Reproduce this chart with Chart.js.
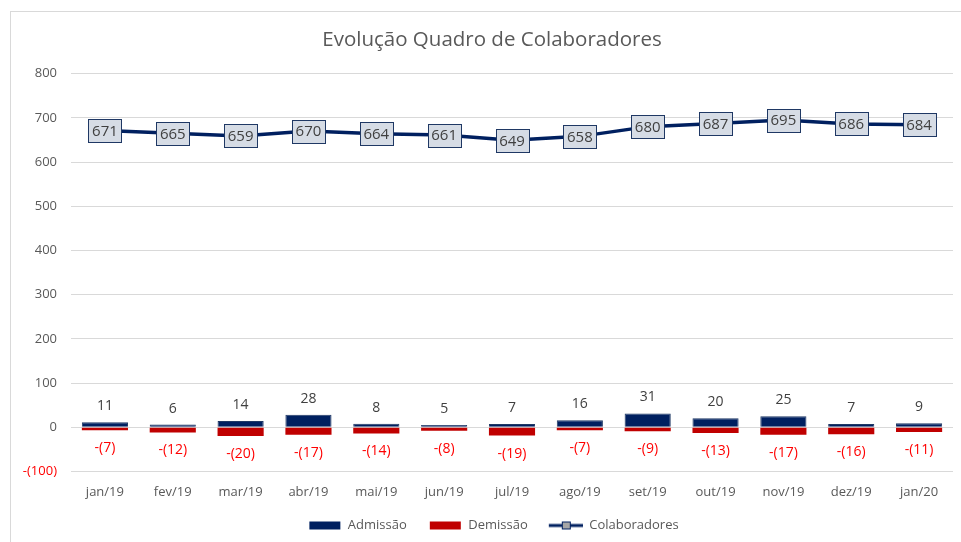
<!DOCTYPE html>
<html>
<head>
<meta charset="utf-8">
<script src="https://cdn.jsdelivr.net/npm/chart.js@4"></script>
<style>
html,body{margin:0;padding:0;background:#fff;}
#wrap{position:relative;width:961px;height:542px;overflow:hidden;}
#frame{position:absolute;left:10px;top:11px;width:1000px;height:600px;border:1px solid #D9D9D9;box-sizing:border-box;}
canvas{position:absolute;left:0;top:0;}
</style>
</head>
<body>
<div id="wrap"><div id="frame"></div><canvas id="c" width="961" height="542"></canvas></div>
<script>
const categories = ['jan/19','fev/19','mar/19','abr/19','mai/19','jun/19','jul/19','ago/19','set/19','out/19','nov/19','dez/19','jan/20'];
const admissao = [11,6,14,28,8,5,7,16,31,20,25,7,9];
const demissao = [-7,-12,-20,-17,-14,-8,-19,-7,-9,-13,-17,-16,-11];
const colaboradores = [671,665,659,670,664,661,649,658,680,687,695,686,684];
const yTicks = [-100,0,100,200,300,400,500,600,700,800];

const NAVY = '#002060', RED = '#C00000', GRAY = '#595959';
const FONT = "'Open Sans', 'Liberation Sans', sans-serif";

function legendCanvas(kind, color){
  const cv = document.createElement('canvas');
  cv.width = 41; cv.height = 12;
  const g = cv.getContext('2d');
  if(kind === 'bar'){
    g.fillStyle = color; g.fillRect(9,2,31,8);
  } else {
    g.strokeStyle = NAVY; g.lineWidth = 3;
    g.beginPath(); g.moveTo(7,6); g.lineTo(41,6); g.stroke();
    g.fillStyle = '#A6A6A6'; g.fillRect(20.5,2.5,8,7);
    g.strokeStyle = NAVY; g.lineWidth = 1; g.strokeRect(20.5,2.5,8,7);
  }
  return cv;
}
const legImgs = [legendCanvas('bar', NAVY), legendCanvas('bar', RED), legendCanvas('line')];

// centre title and legend over the Excel-style chart frame instead of the canvas
const frameCentre = {
  id: 'frameCentre',
  afterLayout(chart){
    const t = chart.titleBlock;
    if (t) { t.left = 31; t.right = chart.chartArea.right; }
    const l = chart.legend;
    if (l) { l.left += 13; l.right += 13; }
  }
};

const labelPlugin = {
  id: 'valueLabels',
  afterDatasetsDraw(chart){
    const ctx = chart.ctx;
    ctx.save();
    ctx.textAlign = 'center';
    ctx.textBaseline = 'middle';
    let meta = chart.getDatasetMeta(0);
    ctx.font = '14px ' + FONT;
    ctx.fillStyle = '#404040';
    meta.data.forEach((el,i)=>{ ctx.fillText(String(admissao[i]), el.x, el.y - 16); });
    meta = chart.getDatasetMeta(1);
    ctx.fillStyle = '#FF0000';
    meta.data.forEach((el,i)=>{ ctx.fillText('-(' + Math.abs(demissao[i]) + ')', el.x, el.y + 18); });
    meta = chart.getDatasetMeta(2);
    ctx.font = '15px ' + FONT;
    meta.data.forEach((el,i)=>{
      const w = 33, h = 23;
      const x = Math.round(el.x - w/2) + 0.5, y = Math.round(el.y - h/2) + 0.5;
      ctx.fillStyle = '#D6DCE5';
      ctx.fillRect(x, y, w, h);
      ctx.strokeStyle = '#1F3864';
      ctx.lineWidth = 1;
      ctx.strokeRect(x, y, w, h);
      ctx.fillStyle = '#404040';
      ctx.fillText(String(colaboradores[i]), el.x, el.y + 1);
    });
    ctx.restore();
  }
};

new Chart(document.getElementById('c'), {
  data: {
    labels: categories,
    datasets: [
      { type:'bar', label:'Admissão', data: admissao, backgroundColor: NAVY, borderColor:'#1F3864', borderWidth:1, order:2 },
      { type:'bar', label:'Demissão', data: demissao, backgroundColor: RED, order:2 },
      { type:'line', label:'Colaboradores', data: colaboradores, borderColor: NAVY, borderWidth:3.5, pointRadius:0, tension:0, order:1 }
    ]
  },
  options: {
    responsive:false,
    animation:false,
    layout:{ padding:{ left:0, right:8, top:0, bottom:0 } },
    datasets:{ bar:{ categoryPercentage:1, barPercentage:0.68 } },
    plugins:{
      title:{ display:true, text:'Evolução Quadro de Colaboradores', color:GRAY,
        font:{ family:FONT, size:20.5, weight:'normal' }, padding:{ top:28, bottom:21 } },
      legend:{ position:'bottom',
        labels:{ usePointStyle:true, pointStyleWidth:41, boxHeight:12, padding:14, color:GRAY,
          font:{ family:FONT, size:13 },
          generateLabels(chart){
            return chart.data.datasets.map((d,i)=>({ text:d.label, pointStyle:legImgs[i], datasetIndex:i,
              fillStyle:'transparent', strokeStyle:'transparent', lineWidth:0, fontColor:GRAY }));
          } } },
      tooltip:{ enabled:false }
    },
    scales:{
      x:{ stacked:true, offset:true, grid:{ display:false }, border:{ display:false },
        ticks:{ color:GRAY, font:{ family:FONT, size:13 }, padding:5 } },
      y:{ stacked:true, min:-100, max:800,
        afterBuildTicks(s){ s.ticks = yTicks.map(v=>({ value:v })); },
        afterFit(s){ s.width = 71; },
        grid:{ color:'#D9D9D9', drawTicks:false }, border:{ display:false },
        ticks:{ padding:14, font:{ family:FONT, size:13 },
          color:(c)=> c.tick && c.tick.value < 0 ? '#FF0000' : GRAY,
          callback:(v)=> v < 0 ? '-(' + Math.abs(v) + ')' : String(v) } }
    }
  },
  plugins:[frameCentre, labelPlugin]
});
</script>
</body>
</html>
